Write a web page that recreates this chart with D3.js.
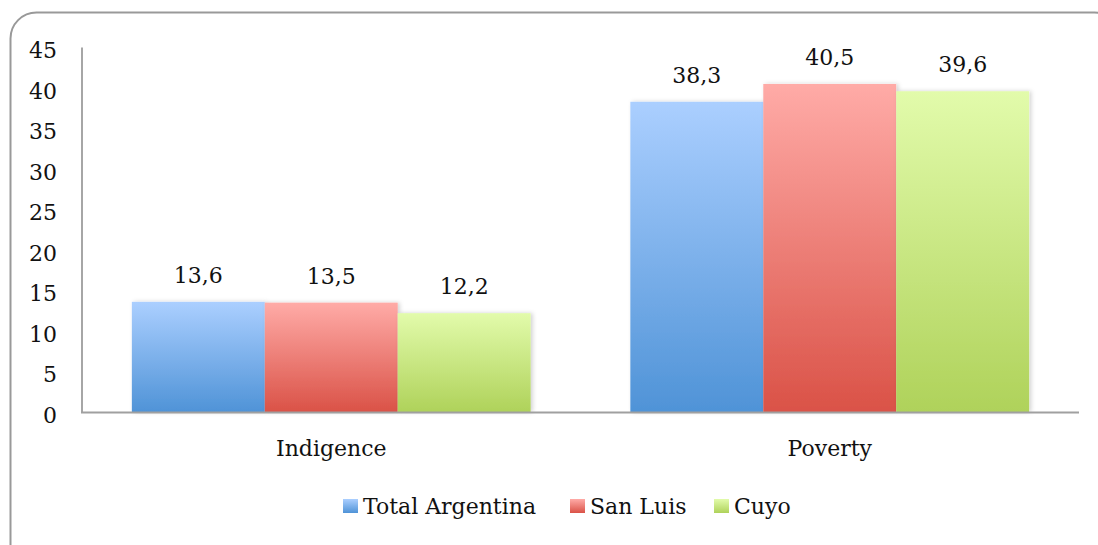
<!DOCTYPE html>
<html>
<head>
<meta charset="utf-8">
<script src="https://cdn.jsdelivr.net/npm/d3@7"></script>
<style>
  body { margin: 0; background: #fff; }
  svg text { font-family: "DejaVu Serif", serif; fill: #111; }
</style>
</head>
<body>
<svg id="chart" width="1098" height="545"></svg>
<script>
var categories = ["Indigence", "Poverty"];
var seriesNames = ["Total Argentina", "San Luis", "Cuyo"];
var totalArgentina = [13.6, 38.3];
var sanLuis = [13.5, 40.5];
var cuyo = [12.2, 39.6];
var yTicks = [0, 5, 10, 15, 20, 25, 30, 35, 40, 45];

var seriesValues = [totalArgentina, sanLuis, cuyo];
var colors = [
  { top: "#abcfff", bottom: "#4f93d7" },
  { top: "#ffaba7", bottom: "#da5247" },
  { top: "#e2fbab", bottom: "#afd25a" }
];

var svg = d3.select("#chart"),
    width = +svg.attr("width"),
    height = +svg.attr("height");

var margin = { left: 82, right: 19, top: 47.5, bottom: 133 };
var fontSize = 22;

// outer rounded frame
svg.append("rect")
  .attr("x", 10.5).attr("y", 12.5)
  .attr("width", 1110).attr("height", 560)
  .attr("rx", 26).attr("ry", 26)
  .attr("fill", "none")
  .attr("stroke", "#999")
  .attr("stroke-width", 2);

var defs = svg.append("defs");
colors.forEach(function(c, i) {
  var g = defs.append("linearGradient")
    .attr("id", "grad" + i)
    .attr("x1", 0).attr("y1", 0).attr("x2", 0).attr("y2", 1);
  g.append("stop").attr("offset", "0%").attr("stop-color", c.top);
  g.append("stop").attr("offset", "100%").attr("stop-color", c.bottom);
});
var shadow = defs.append("filter").attr("id", "shadow")
  .attr("x", "-10%").attr("y", "-10%").attr("width", "130%").attr("height", "120%");
shadow.append("feDropShadow")
  .attr("dx", 2).attr("dy", 0).attr("stdDeviation", 2)
  .attr("flood-color", "#000").attr("flood-opacity", 0.18);

var x0 = d3.scaleBand()
  .domain(categories)
  .range([margin.left, width - margin.right])
  .paddingInner(0.2)
  .paddingOuter(0.1);

var x1 = d3.scaleBand()
  .domain(seriesNames)
  .range([0, x0.bandwidth()]);

var y = d3.scaleLinear()
  .domain([0, 45])
  .range([height - margin.bottom, margin.top]);

// y tick labels
svg.append("g").selectAll("text")
  .data(yTicks)
  .enter().append("text")
    .attr("x", 57)
    .attr("y", function(d) { return y(d) + 3; })
    .attr("dy", "0.35em")
    .attr("text-anchor", "end")
    .style("font-size", fontSize + "px")
    .text(function(d) { return d; });

// bars
var groups = svg.append("g").selectAll("g")
  .data(categories)
  .enter().append("g")
    .attr("transform", function(d) { return "translate(" + x0(d) + ",0)"; });

groups.selectAll("rect")
  .data(function(d, ci) {
    return seriesNames.map(function(s, si) { return { s: s, si: si, v: seriesValues[si][ci] }; });
  })
  .enter().append("rect")
    .attr("x", function(d) { return x1(d.s); })
    .attr("y", function(d) { return y(d.v); })
    .attr("width", x1.bandwidth())
    .attr("height", function(d) { return y(0) - y(d.v); })
    .attr("fill", function(d) { return "url(#grad" + d.si + ")"; })
    .attr("filter", "url(#shadow)");

groups.selectAll("text.val")
  .data(function(d, ci) {
    return seriesNames.map(function(s, si) { return { s: s, v: seriesValues[si][ci] }; });
  })
  .enter().append("text")
    .attr("class", "val")
    .attr("x", function(d) { return x1(d.s) + x1.bandwidth() / 2; })
    .attr("y", function(d) { return y(d.v) - 19; })
    .attr("text-anchor", "middle")
    .style("font-size", fontSize + "px")
    .text(function(d) { return String(d.v).replace(".", ","); });

// axes lines
svg.append("line")
  .attr("x1", margin.left).attr("x2", margin.left)
  .attr("y1", margin.top).attr("y2", y(0))
  .attr("stroke", "#a6a6a6").attr("stroke-width", 2);
svg.append("line")
  .attr("x1", margin.left - 1).attr("x2", width - margin.right)
  .attr("y1", y(0) + 0.5).attr("y2", y(0) + 0.5)
  .attr("stroke", "#a0a0a0").attr("stroke-width", 2);

// category labels
svg.append("g").selectAll("text")
  .data(categories)
  .enter().append("text")
    .attr("x", function(d) { return x0(d) + x0.bandwidth() / 2; })
    .attr("y", 456)
    .attr("text-anchor", "middle")
    .style("font-size", fontSize + "px")
    .text(function(d) { return d; });

// legend
var legendX = [343, 570, 714];
var legend = svg.append("g").selectAll("g")
  .data(seriesNames)
  .enter().append("g")
    .attr("transform", function(d, i) { return "translate(" + legendX[i] + ",499)"; });

legend.append("rect")
  .attr("width", 15).attr("height", 14)
  .attr("fill", function(d, i) { return "url(#grad" + i + ")"; });

legend.append("text")
  .attr("x", 20)
  .attr("y", 15)
  .style("font-size", fontSize + "px")
  .text(function(d) { return d; });
</script>
</body>
</html>
